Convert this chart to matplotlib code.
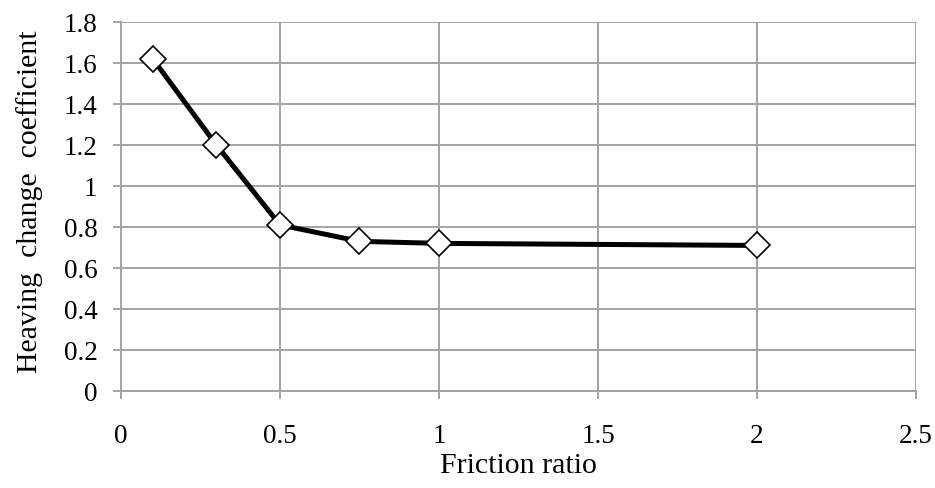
import matplotlib
matplotlib.use("Agg")
import matplotlib.pyplot as plt

friction_ratio = [0.1, 0.3, 0.5, 0.75, 1.0, 2.0]
heaving_coef = [1.62, 1.20, 0.81, 0.73, 0.72, 0.71]

x_ticks = [0, 0.5, 1, 1.5, 2, 2.5]
x_labels = ["0", "0.5", "1", "1.5", "2", "2.5"]
y_ticks = [0, 0.2, 0.4, 0.6, 0.8, 1.0, 1.2, 1.4, 1.6, 1.8]
y_labels = ["0", "0.2", "0.4", "0.6", "0.8", "1", "1.2", "1.4", "1.6", "1.8"]

plt.rcParams["font.family"] = ["Liberation Serif", "DejaVu Serif"]
GRID = "#a3a3a3"

fig = plt.figure(figsize=(9.35, 4.89), dpi=100)
ax = fig.add_axes([0.1294, 0.1984, 0.8503, 0.7546])

ax.plot(friction_ratio, heaving_coef, color="black", linewidth=3.6,
        marker="D", markersize=13, markerfacecolor="white",
        markeredgecolor="black", markeredgewidth=1.2, zorder=3)

ax.set_xlim(0, 2.5)
ax.set_ylim(0, 1.8)
ax.set_xticks(x_ticks)
ax.set_xticklabels(x_labels)
ax.set_yticks(y_ticks)
ax.set_yticklabels(y_labels)
ax.grid(True, color=GRID, linewidth=1.4)
ax.set_axisbelow(True)

for side in ["top", "right"]:
    ax.spines[side].set_visible(False)
for side in ["left", "bottom"]:
    ax.spines[side].set_color(GRID)
    ax.spines[side].set_linewidth(1.4)

ax.tick_params(axis="both", colors=GRID, labelcolor="black", labelsize=19.5,
               length=6, width=1.4, direction="out")
ax.tick_params(axis="x", pad=17)
ax.tick_params(axis="y", pad=11)

ax.set_xlabel("Friction ratio", fontsize=21.5, labelpad=3)
ax.set_ylabel("Heaving  change  coefficient", fontsize=21.5)
ax.yaxis.set_label_coords(-0.098, 0.515)

fig.savefig("out.png", dpi=100)
